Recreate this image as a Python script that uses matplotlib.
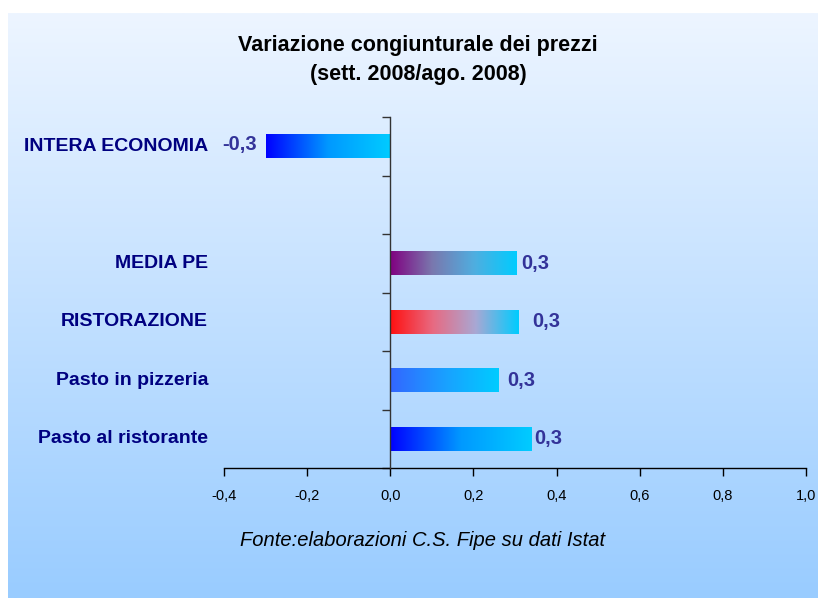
import numpy as np
import matplotlib
matplotlib.use("Agg")
import matplotlib.pyplot as plt
from matplotlib.colors import LinearSegmentedColormap, to_rgb

# ---------------- data ----------------
categories = ["Pasto al ristorante", "Pasto in pizzeria", "RISTORAZIONE", "MEDIA PE", "", "INTERA ECONOMIA"]
values = [0.34, 0.26, 0.31, 0.305, np.nan, -0.30]
value_labels = ["0,3", "0,3", "0,3", "0,3", "", "-0,3"]
x_ticks = [-0.4, -0.2, 0.0, 0.2, 0.4, 0.6, 0.8, 1.0]
x_tick_labels = ["-0,4", "-0,2", "0,0", "0,2", "0,4", "0,6", "0,8", "1,0"]
title = "Variazione congiunturale dei prezzi\n(sett. 2008/ago. 2008)"
source = "Fonte:elaborazioni C.S. Fipe su dati Istat"

# ---------------- styles ----------------
bar_gradients = [
    ["#0000FF", "#0099FF", "#00CCFF"],
    ["#3366FF", "#1AA0FF", "#00CCFF"],
    ["#FF1010", "#E86A82", "#A8A8D4", "#00CCFF"],
    ["#800080", "#7A78AE", "#4FAEE0", "#00CCFF"],
    ["#000000", "#000000"],
    ["#0000FF", "#0099FF", "#00CCFF"],
]
label_pad = [3, 9, 13, 4, 0, 4]  # pixels
plt.rcParams["font.family"] = ["Liberation Sans", "DejaVu Sans"]

W, H = 818, 599
fig = plt.figure(figsize=(W / 100, H / 100), dpi=100)
fig.patch.set_facecolor("white")

# background panel with vertical gradient
bg = fig.add_axes([8 / W, 1 - 598 / H, (W - 8) / W, (598 - 13) / H])
bg.set_axis_off()
top_c = np.array(to_rgb("#EDF5FF"))
bot_c = np.array(to_rgb("#99CCFF"))
t = np.linspace(0, 1, 256)[:, None]
grad = top_c[None, :] * (1 - t) + bot_c[None, :] * t
bg.imshow(grad[:, None, :], aspect="auto", extent=[0, 1, 0, 1])
bg.set_xlim(0, 1)
bg.set_ylim(0, 1)

# main axes
x0, x1 = 224, 806
y_top, y_bot = 117, 468
ax = fig.add_axes([x0 / W, 1 - y_bot / H, (x1 - x0) / W, (y_bot - y_top) / H])
ax.patch.set_alpha(0)
ax.set_xlim(-0.4, 1.0)
ax.set_ylim(-0.5, len(categories) - 0.5)

pos = np.arange(len(categories))
bars = ax.barh(pos, np.nan_to_num(values), height=0.41, color="none", edgecolor="none")

for b, v, cols in zip(bars, values, bar_gradients):
    if np.isnan(v):
        continue
    cmap = LinearSegmentedColormap.from_list("g", cols)
    xa, ya = b.get_x(), b.get_y()
    w, h = b.get_width(), b.get_height()
    left, right = min(xa, xa + w), max(xa, xa + w)
    img = ax.imshow(np.linspace(0, 1, 256)[None, :], cmap=cmap, aspect="auto",
                    extent=[left, right, ya, ya + h], zorder=2, interpolation="bicubic")
    img.set_clip_path(b)
ax.set_xlim(-0.4, 1.0)
ax.set_ylim(-0.5, len(categories) - 0.5)

# value labels
for b, v, lab, pad in zip(bars, values, value_labels, label_pad):
    if np.isnan(v):
        continue
    yc = b.get_y() + b.get_height() / 2
    if v >= 0:
        ax.annotate(lab, (v, yc), xytext=(pad, 0), textcoords="offset pixels",
                    ha="left", va="center", fontsize=14.5, fontweight="bold", color="#333399")
    else:
        ax.annotate(lab, (v, yc), xytext=(-pad - 5, 2), textcoords="offset pixels",
                    ha="right", va="center", fontsize=14.5, fontweight="bold", color="#333399")

# category labels
for p, c in zip(pos, categories):
    ax.text(-16 / (x1 - x0), p, c, transform=ax.get_yaxis_transform(), ha="right", va="center",
            fontsize=14, fontweight="bold", color="#000080")

# spines
for s in ["top", "right"]:
    ax.spines[s].set_visible(False)
ax.spines["left"].set_position(("data", 0))
ax.spines["left"].set_color("#333333")
ax.spines["left"].set_linewidth(1.0)
ax.spines["bottom"].set_color("black")
ax.spines["bottom"].set_linewidth(1.0)
ax.spines["left"].set_zorder(3)

ax.set_yticks(np.arange(-0.5, len(categories) - 0.4, 1.0))
ax.set_yticklabels([])
ax.tick_params(axis="y", direction="out", length=6, width=1, color="#333333")
ax.set_xticks(x_ticks)
ax.set_xticklabels(x_tick_labels)
ax.tick_params(axis="x", direction="out", length=6, width=1, labelsize=10.5, pad=9, color="black")

fig.text(418 / W, 1 - 60 / H, title, ha="center", va="center", fontsize=15.5,
         fontweight="bold", linespacing=1.55)
fig.text(423 / W, 1 - 541 / H, source, ha="center", va="center", fontsize=14.5, style="italic")

fig.savefig("out.png", dpi=100)
